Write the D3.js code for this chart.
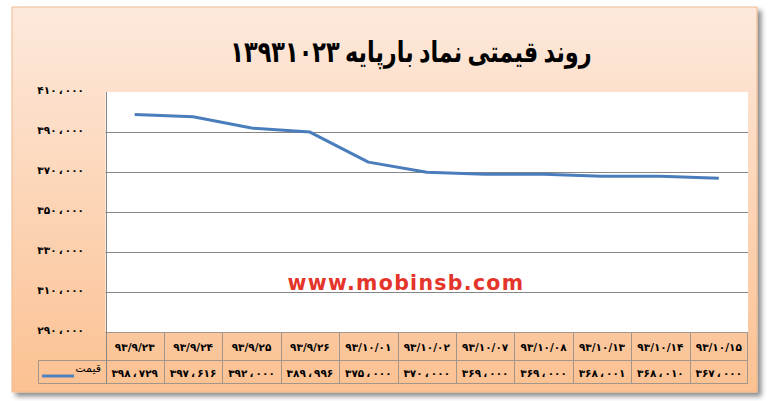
<!DOCTYPE html>
<html><head><meta charset="utf-8">
<script src="https://cdn.jsdelivr.net/npm/d3@7"></script>
<style>html,body{margin:0;padding:0;background:#fff;}svg{display:block;}</style>
</head><body>
<svg id="c" width="771" height="401"></svg>
<script>
const title = "روند قیمتی نماد بارپایه ۱۳۹۳۱۰۲۳";
const seriesName = "قیمت";
const dates = ["۹۳/۹/۲۳","۹۳/۹/۲۴","۹۳/۹/۲۵","۹۳/۹/۲۶","۹۳/۱۰/۰۱","۹۳/۱۰/۰۲","۹۳/۱۰/۰۷","۹۳/۱۰/۰۸","۹۳/۱۰/۱۳","۹۳/۱۰/۱۴","۹۳/۱۰/۱۵"];
const prices = [398729, 397616, 392000, 389996, 375000, 370000, 369000, 369000, 368001, 368010, 367000];
const yTicks = [290000, 310000, 330000, 350000, 370000, 390000, 410000];
const watermark = "www.mobinsb.com";

const faDigits = "۰۱۲۳۴۵۶۷۸۹";
function fa(n){
  const s = Math.round(n).toString();
  const th = s.slice(0, s.length-3), rest = s.slice(-3);
  return (th + "\u2009،\u2009" + rest).replace(/[0-9]/g, d => faDigits[+d]);
}

const svg = d3.select("#c");
const defs = svg.append("defs");
const g1 = defs.append("linearGradient").attr("id","bg").attr("x1",0).attr("y1",0).attr("x2",0).attr("y2",1);
g1.append("stop").attr("offset","0%").attr("stop-color","#fde9dc");
g1.append("stop").attr("offset","100%").attr("stop-color","#fbc192");
const f = defs.append("filter").attr("id","sh").attr("x","-5%").attr("y","-5%").attr("width","115%").attr("height","115%");
f.append("feGaussianBlur").attr("in","SourceAlpha").attr("stdDeviation",2.5);
f.append("feOffset").attr("dx",4).attr("dy",4).attr("result","b");
f.append("feComponentTransfer").attr("in","b").attr("result","b2").append("feFuncA").attr("type","linear").attr("slope",0.45);
const fm = f.append("feMerge"); fm.append("feMergeNode").attr("in","b2"); fm.append("feMergeNode").attr("in","SourceGraphic");

// outer chart box
svg.append("rect").attr("x",12).attr("y",7).attr("width",745).attr("height",385)
  .attr("fill","url(#bg)").attr("stroke","#f2b98c").attr("stroke-width",1).attr("filter","url(#sh)");

const L = 105.5, R = 748, T = 92, B = 332.5;
const x = d3.scaleBand().domain(dates).range([L, R]);
const y = d3.scaleLinear().domain([290000, 410000]).range([B, T]);

// plot area
svg.append("rect").attr("x",L).attr("y",T).attr("width",R-L).attr("height",B-T).attr("fill","#fff");

// gridlines
svg.append("g").selectAll("line").data(yTicks.filter(t=>t>290000 && t<410000)).join("line")
  .attr("x1",L).attr("x2",R).attr("y1",d=>Math.round(y(d))+0.5).attr("y2",d=>Math.round(y(d))+0.5)
  .attr("stroke","#868686").attr("stroke-width",1);

// y axis labels
const yAxis = d3.axisLeft(y).tickValues(yTicks).tickSize(0).tickPadding(0).tickFormat(fa);
const ya = svg.append("g").attr("transform",`translate(84,-2)`).call(yAxis);
ya.select(".domain").remove();
ya.selectAll("text").attr("font-family","DejaVu Sans").attr("font-weight","bold")
  .attr("font-size",10.5).attr("fill","#000").attr("direction","ltr");

// table
const rowTop = B, rowMid = 360.5, rowBot = 383.5;
const tcol = "#a4958a";
const tg = svg.append("g");
tg.append("line").attr("x1",L).attr("x2",R).attr("y1",rowTop).attr("y2",rowTop).attr("stroke",tcol);
tg.append("line").attr("x1",38.5).attr("x2",R).attr("y1",rowMid).attr("y2",rowMid).attr("stroke",tcol);
tg.append("line").attr("x1",38.5).attr("x2",R).attr("y1",rowBot).attr("y2",rowBot).attr("stroke",tcol);
tg.append("line").attr("x1",38.5).attr("x2",38.5).attr("y1",rowMid).attr("y2",rowBot).attr("stroke",tcol);
tg.selectAll("line.v").data(dates).join("line").attr("class","v")
  .attr("x1",d=>Math.round(x(d))+0.5).attr("x2",d=>Math.round(x(d))+0.5)
  .attr("y1",d=>d===dates[0]?T:rowTop).attr("y2",rowBot).attr("stroke",d=>d===dates[0]?"#868686":tcol);
tg.append("line").attr("x1",R-0.5).attr("x2",R-0.5).attr("y1",rowTop).attr("y2",rowBot).attr("stroke",tcol);

tg.selectAll("text.d").data(dates).join("text").attr("class","d")
  .attr("x",d=>x(d)+x.bandwidth()/2).attr("y",351).attr("text-anchor","middle")
  .attr("font-family","DejaVu Sans").attr("font-weight","bold").attr("font-size",10.5)
  .attr("direction","ltr").attr("fill","#000").text(d=>d);
tg.selectAll("text.p").data(prices).join("text").attr("class","p")
  .attr("x",(d,i)=>x(dates[i])+x.bandwidth()/2).attr("y",376.5).attr("text-anchor","middle")
  .attr("font-family","DejaVu Sans").attr("font-weight","bold").attr("font-size",10.5)
  .attr("direction","ltr").attr("fill","#000").text(d=>fa(d));

// legend key
tg.append("line").attr("x1",42).attr("x2",74).attr("y1",376).attr("y2",376)
  .attr("stroke","#4f81bd").attr("stroke-width",3);
tg.append("text").attr("x",101).attr("y",372).attr("text-anchor","end").attr("direction","ltr")
  .attr("font-family","DejaVu Sans").attr("font-size",11).attr("fill","#000").text(seriesName);

// watermark
svg.append("text").attr("x",406).attr("y",290).attr("text-anchor","middle")
  .attr("font-family","DejaVu Sans").attr("font-weight","bold").attr("font-size",20.5)
  .attr("letter-spacing",1.3).attr("fill","#e5342a").text(watermark);

// line
const line = d3.line().x((d,i)=>x(dates[i])+x.bandwidth()/2).y(d=>y(d));
svg.append("path").datum(prices).attr("d",line).attr("fill","none")
  .attr("stroke","#4a7dbb").attr("stroke-width",3).attr("stroke-linejoin","round");

// title
svg.append("text").attr("transform","translate(411,62) scale(0.83,1.08)").attr("text-anchor","middle").attr("direction","rtl")
  .attr("font-family","DejaVu Sans").attr("font-weight","bold").attr("font-size",27)
  .attr("word-spacing",-3).attr("fill","#000").text(title);
</script>
</body></html>
